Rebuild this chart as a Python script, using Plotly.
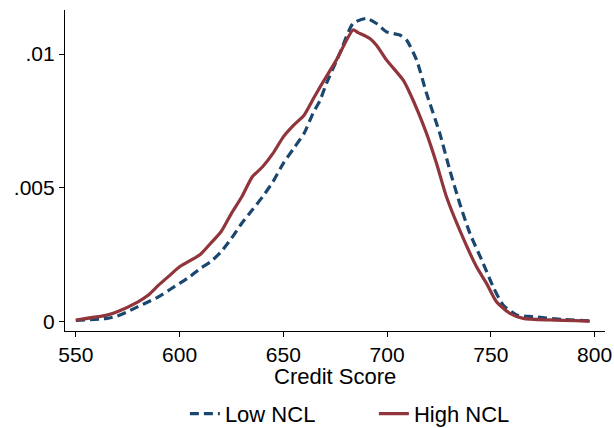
import plotly.graph_objects as go

low_x = [550, 565, 570, 575, 580, 585, 590, 595, 600, 605, 610, 615, 620, 625, 630, 635, 640, 645, 650, 655, 660, 664.4, 667.6, 670.8, 677.2, 683.6, 690, 694.9, 699.7, 706.1, 709.4, 714.2, 719, 725.4, 730.2, 735, 739.9, 746.3, 751.1, 755.9, 762.4, 770.4, 784.9, 797.7]
low_y = [0.00003, 0.00011, 0.0002, 0.00036, 0.00055, 0.00073, 0.00092, 0.00117, 0.00142, 0.00167, 0.00198, 0.00223, 0.0026, 0.0031, 0.00367, 0.00416, 0.00466, 0.00522, 0.00591, 0.00647, 0.00703, 0.0078, 0.00825, 0.0089, 0.01002, 0.01114, 0.01133, 0.01114, 0.01083, 0.01071, 0.01052, 0.00978, 0.00853, 0.00703, 0.00566, 0.00441, 0.00329, 0.00217, 0.00129, 0.00061, 0.00024, 0.00017, 0.00007, 0.00001]

high_x = [550, 565, 570, 580, 585, 590, 595, 600, 610, 615, 620, 625, 630, 635, 640, 645, 650, 655, 660, 665, 667.6, 675.6, 683.6, 686, 691.7, 694.9, 699.7, 707.7, 711, 719, 723.8, 728.6, 735, 743.1, 747.9, 752.7, 759.2, 765.6, 778.4, 797.7]
high_y = [0.00005, 0.00023, 0.00036, 0.00073, 0.00098, 0.00136, 0.0017, 0.00204, 0.0025, 0.00292, 0.00335, 0.00404, 0.00466, 0.0054, 0.00578, 0.00628, 0.0069, 0.00734, 0.00771, 0.0084, 0.00875, 0.00978, 0.0109, 0.0108, 0.01058, 0.01033, 0.00978, 0.00903, 0.00853, 0.00703, 0.00591, 0.00466, 0.00341, 0.00204, 0.00142, 0.00073, 0.0003, 0.00011, 0.00005, 0.00001]

x_ticks = [550, 600, 650, 700, 750, 800]
y_ticks = [0, 0.005, 0.01]
y_tick_labels = ["0", ".005", ".01"]
x_title = "Credit Score"

fig = go.Figure()
fig.add_trace(go.Scatter(x=low_x, y=low_y, mode="lines", name="Low NCL",
                         line=dict(color="#1a476f", width=3.2, dash="9px,5px", shape="spline", smoothing=0.6)))
fig.add_trace(go.Scatter(x=high_x, y=high_y, mode="lines", name="High NCL",
                         line=dict(color="#90353b", width=3.2, shape="spline", smoothing=0.6)))

FAM = "Liberation Sans, Arial, sans-serif"
font = dict(family=FAM, size=21, color="black")
fig.update_layout(
    width=614, height=428,
    margin=dict(l=65, r=9, t=10, b=97, autoexpand=False),
    paper_bgcolor="white", plot_bgcolor="white",
    font=font,
    showlegend=True,
    legend=dict(orientation="h", x=0.222, xanchor="left", y=-0.258, yanchor="middle",
                font=dict(family=FAM, size=22, color="black"),
                entrywidth=144, entrywidthmode="pixels", tracegroupgap=0),
    xaxis=dict(range=[544.8, 805], tickmode="array", tickvals=x_ticks,
               showline=True, linecolor="black", linewidth=1.2,
               ticks="outside", ticklen=5, tickcolor="black", showgrid=False, zeroline=False,
               tickfont=font, automargin=False),
    yaxis=dict(range=[-0.000363, 0.011646], tickmode="array", tickvals=y_ticks, ticktext=y_tick_labels,
               showline=True, linecolor="black", linewidth=1.2,
               ticks="outside", ticklen=5, tickcolor="black", showgrid=False, zeroline=False,
               tickfont=font, automargin=False),
    annotations=[dict(text=x_title, xref="paper", yref="paper", x=0.5, y=-0.143,
                      xanchor="center", yanchor="middle", showarrow=False,
                      font=dict(family=FAM, size=22, color="black"))],
)
fig.write_html("out.html", config={"displayModeBar": False},
               post_script="document.body.style.margin='0';document.body.style.overflow='hidden';")
